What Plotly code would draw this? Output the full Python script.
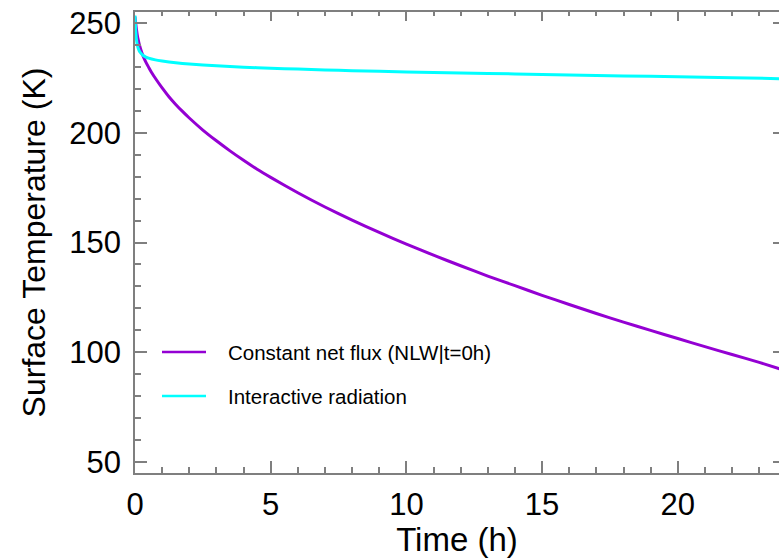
import plotly.graph_objects as go

# Data
t_const = [0, 0.05, 0.1, 0.2, 0.3, 0.4, 0.5, 0.6, 0.8, 1, 1.25, 1.5, 1.75, 2, 2.5, 3, 3.5, 4, 4.5, 5,
           6, 7, 8, 9, 10, 11, 12, 13, 14, 15, 16, 17, 18, 19, 20, 21, 22, 23, 23.8]
T_const = [253, 247.5, 243.5, 238.5, 235, 232.3, 230, 227.8, 224, 220.5, 216.5, 213, 209.8, 206.8, 201.3,
           196.4, 191.8, 187.5, 183.4, 179.7, 172.7, 166.2, 160.2, 154.6, 149.3, 144.2, 139.4, 134.7,
           130.3, 125.9, 121.7, 117.6, 113.7, 109.9, 106.2, 102.5, 98.9, 95.3, 92.2]

t_inter = [0, 0.02, 0.05, 0.1, 0.15, 0.2, 0.3, 0.4, 0.5, 0.75, 1, 1.5, 2, 3, 4, 5, 6, 7, 8, 10, 12, 14,
           16, 18, 20, 22, 23.8]
T_inter = [253.5, 248, 243, 239.3, 237.6, 236.6, 235.3, 234.6, 234.1, 233.3, 232.8, 232.0, 231.4, 230.6,
           230.0, 229.5, 229.1, 228.7, 228.4, 227.8, 227.3, 226.9, 226.4, 226.0, 225.6, 225.2, 224.7]

names = ["Constant net flux (NLW|t=0h)", "Interactive radiation"]
colors = ["#9400D3", "#00FFFF"]

x_range = [0, 23.73]
y_range = [44.85, 255.15]
x_ticks = [0, 5, 10, 15, 20]
y_ticks = [50, 100, 150, 200, 250]

FONT = "Liberation Sans, Arial, Helvetica, sans-serif"
AX = "#7f7f7f"

fig = go.Figure()
fig.add_trace(go.Scatter(x=t_const, y=T_const, mode="lines", name=names[0],
                         line=dict(color=colors[0], width=3, shape="spline", smoothing=0.5),
                         showlegend=False))
fig.add_trace(go.Scatter(x=t_inter, y=T_inter, mode="lines", name=names[1],
                         line=dict(color=colors[1], width=3, shape="spline", smoothing=0.5),
                         showlegend=False))

# manual legend (paper coordinates)
W, H = 779, 558
ml, mr, mt, mb = 135, 0, 12, 85
pw, ph = W - ml - mr, H - mt - mb
def px(x):
    return (x - ml) / pw
def py(y):
    return (H - mb - y) / ph

leg_rows = [352, 396]
for i in range(2):
    fig.add_shape(type="line", xref="paper", yref="paper",
                  x0=px(162), x1=px(206), y0=py(leg_rows[i]), y1=py(leg_rows[i]),
                  line=dict(color=colors[i], width=2.5))
    fig.add_annotation(xref="paper", yref="paper", x=px(226), y=py(leg_rows[i]),
                       text=names[i], showarrow=False, xanchor="left", yanchor="middle",
                       font=dict(family=FONT, size=20.5, color="black"))

fig.update_layout(
    width=W, height=H,
    margin=dict(l=ml, r=mr, t=mt, b=mb),
    paper_bgcolor="white", plot_bgcolor="white",
    font=dict(family=FONT, color="black"),
    xaxis=dict(range=x_range, tickvals=x_ticks, ticks="inside", ticklen=12, tickwidth=1.5,
               tickcolor=AX, showline=True, linecolor=AX, linewidth=1.5, showgrid=False,
               zeroline=False, tickfont=dict(size=31), ticklabelstandoff=3,
               minor=dict(dtick=1, tick0=0, ticks="inside", ticklen=6, tickcolor=AX, tickwidth=1.5, showgrid=False),
               title=dict(text="Time (h)", font=dict(size=33), standoff=0)),
    xaxis2=dict(range=x_range, overlaying="x", side="top", tickvals=x_ticks, ticks="inside",
                ticklen=9, tickwidth=1.5, tickcolor=AX, showline=True, linecolor=AX, linewidth=1.5,
                showticklabels=False, showgrid=False, zeroline=False, matches="x",
                minor=dict(dtick=1, tick0=0, ticks="inside", ticklen=4, tickcolor=AX, tickwidth=1.5, showgrid=False)),
    yaxis=dict(range=y_range, tickvals=y_ticks, ticks="inside", ticklen=12, tickwidth=1.5,
               tickcolor=AX, showline=True, linecolor=AX, linewidth=1.5, showgrid=False,
               zeroline=False, tickfont=dict(size=31), ticklabelstandoff=6,
               minor=dict(dtick=10, tick0=0, ticks="inside", ticklen=6, tickcolor=AX, tickwidth=1.5, showgrid=False),
               title=dict(text="Surface Temperature (K)", font=dict(size=32), standoff=14)),
    yaxis2=dict(range=y_range, overlaying="y", side="right", tickvals=y_ticks, ticks="inside",
                ticklen=6, tickwidth=1.5, tickcolor=AX, showline=False, showticklabels=False,
                showgrid=False, zeroline=False, matches="y"),
)
# invisible trace to activate the secondary (mirror) axes
fig.add_trace(go.Scatter(x=[None], y=[None], xaxis="x2", yaxis="y2", showlegend=False, hoverinfo="skip"))

fig.write_html("out.html")
